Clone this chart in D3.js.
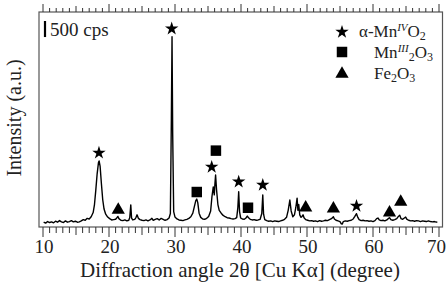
<!DOCTYPE html>
<html>
<head>
<meta charset="utf-8">
<script src="https://cdn.jsdelivr.net/npm/d3@7"></script>
<style>
  body { margin: 0; background: #fff; }
  svg { display: block; font-family: "Liberation Serif", "DejaVu Serif", serif; }
</style>
</head>
<body>
<svg id="chart"></svg>
<script>
// xrd pattern, [2theta (deg), counts (cps)]
var pattern = [
  [10.1,150],[10.4,120],[10.7,170],[11.0,140],[11.3,160],[11.6,130],[11.9,180],[12.2,150],[12.5,200],[12.8,160],
  [13.1,140],[13.4,190],[13.7,150],[14.0,170],[14.3,200],[14.6,160],[14.9,180],[15.2,150],[15.5,160],[15.8,190],
  [16.1,230],[16.4,210],[16.7,270],[17.0,250],[17.3,320],[17.6,450],[17.8,700],[18.0,1150],[18.2,1650],[18.4,2000],
  [18.5,2060],[18.65,1900],[18.85,1350],[19.05,850],[19.25,560],[19.5,400],[19.8,310],[20.1,260],[20.4,220],[20.7,230],
  [21.0,240],[21.2,290],[21.35,330],[21.5,260],[21.8,210],[22.1,200],[22.4,220],[22.7,190],[23.0,210],[23.15,300],
  [23.3,690],[23.42,280],[23.6,220],[23.9,240],[24.1,300],[24.25,380],[24.45,270],[24.7,230],[25.0,210],[25.3,200],
  [25.6,220],[25.9,190],[26.2,220],[26.5,270],[26.7,210],[27.0,240],[27.3,260],[27.6,220],[27.9,270],[28.2,240],
  [28.5,210],[28.8,230],[29.1,280],[29.3,420],[29.45,3400],[29.55,5930],[29.65,2900],[29.8,480],[30.0,310],[30.3,250],
  [30.6,220],[30.9,210],[31.2,200],[31.5,220],[31.8,240],[32.1,270],[32.4,320],[32.7,430],[32.95,650],[33.15,820],
  [33.3,870],[33.45,760],[33.65,430],[33.9,300],[34.2,250],[34.5,240],[34.8,270],[35.1,330],[35.4,500],[35.6,950],
  [35.8,1250],[35.95,1000],[36.05,1350],[36.15,1620],[36.3,1150],[36.5,700],[36.7,520],[37.0,430],[37.3,360],[37.6,320],
  [37.9,290],[38.2,280],[38.5,260],[38.8,250],[39.1,260],[39.35,290],[39.52,600],[39.65,1100],[39.78,480],[39.95,280],
  [40.2,250],[40.5,240],[40.75,280],[40.95,340],[41.15,290],[41.4,240],[41.7,220],[42.0,230],[42.3,210],[42.6,220],
  [42.9,240],[43.15,420],[43.3,1000],[43.42,400],[43.6,230],[43.9,200],[44.2,180],[44.5,190],[44.8,170],[45.1,190],
  [45.4,180],[45.7,170],[46.0,190],[46.3,210],[46.6,240],[46.9,300],[47.15,520],[47.4,840],[47.6,500],[47.85,320],
  [48.1,380],[48.3,600],[48.5,900],[48.62,520],[48.75,700],[48.9,380],[49.1,300],[49.25,330],[49.4,380],[49.55,290],
  [49.8,230],[50.1,210],[50.4,190],[50.7,200],[51.0,180],[51.3,190],[51.6,170],[51.9,200],[52.2,180],[52.5,190],
  [52.8,210],[53.1,200],[53.4,230],[53.7,260],[53.85,290],[54.0,320],[54.15,250],[54.4,210],[54.7,190],[55.0,170],
  [55.2,100],[55.35,90],[55.5,170],[55.8,190],[56.1,180],[56.4,200],[56.7,210],[57.0,250],[57.25,330],[57.5,415],
  [57.7,300],[57.9,230],[58.2,200],[58.5,210],[58.8,190],[59.1,200],[59.4,180],[59.7,190],[60.0,170],[60.3,200],
  [60.55,260],[60.75,280],[60.95,220],[61.2,200],[61.5,210],[61.8,190],[62.1,220],[62.3,260],[62.5,290],[62.7,230],
  [63.0,210],[63.3,230],[63.6,260],[63.85,330],[64.05,370],[64.25,260],[64.5,240],[64.75,280],[64.95,310],[65.15,240],
  [65.4,210],[65.7,190],[66.0,200],[66.3,180],[66.6,200],[66.9,190],[67.2,170],[67.5,190],[67.8,180],[68.1,170],
  [68.4,190],[68.7,170],[69.0,160],[69.3,170],[69.6,150],[69.75,160]
];

// phase markers, [2theta, level in cps where the marker sits]
var stars = [[18.48,2310],[29.5,6180],[35.56,1870],[39.65,1410],[43.3,1310],[57.5,655]];
var squares = [[33.3,1090],[36.2,2380],[41.06,600]];
var triangles = [[21.4,530],[49.8,600],[54.0,570],[62.5,446],[64.2,780]];

var xTicks = [10, 20, 30, 40, 50, 60, 70];
var scaleBar = 500; // cps

var W = 448, H = 284;
var margin = { top: 12, right: 5, bottom: 57, left: 39 };

var svg = d3.select('#chart').attr('width', W).attr('height', H);

var x = d3.scaleLinear().domain([10, 70]).range([43, 439]);
var y = d3.scaleLinear().domain([0, 6700]).range([H - margin.bottom, margin.top]);
var y0 = H - margin.bottom, y1 = margin.top;

// frame
svg.append('rect')
    .attr('x', margin.left).attr('y', y1)
    .attr('width', W - margin.right - margin.left - 0.5).attr('height', y0 - y1)
    .attr('fill', 'none').attr('stroke', '#555').attr('stroke-width', 1.2);

// ticks every degree, longer at 5 and 10, mirrored on top
var minor = d3.range(10, 70.5, 1);
function tickLen(d) { return d % 10 === 0 ? 10 : (d % 5 === 0 ? 8 : 6); }
svg.append('g').selectAll('line').data(minor).join('line')
    .attr('x1', function(d){ return x(d); }).attr('x2', function(d){ return x(d); })
    .attr('y1', y0).attr('y2', function(d){ return y0 + tickLen(d); })
    .attr('stroke', '#333').attr('stroke-width', 1);
svg.append('g').selectAll('line').data(minor).join('line')
    .attr('x1', function(d){ return x(d); }).attr('x2', function(d){ return x(d); })
    .attr('y1', y1).attr('y2', function(d){ return y1 - tickLen(d) + 2; })
    .attr('stroke', '#333').attr('stroke-width', 1);

// last label pushed in a bit so it stays inside the window
svg.append('g').selectAll('text').data(xTicks).join('text')
    .attr('x', function(d){ return d === 70 ? 446 : x(d) + 1; }).attr('y', 253)
    .attr('text-anchor', function(d){ return d === 70 ? 'end' : 'middle'; })
    .attr('font-size', 19).attr('fill', '#222')
    .text(function(d){ return d; });

// axis titles
svg.append('text')
    .attr('x', 240).attr('y', 277).attr('text-anchor', 'middle')
    .attr('font-size', 21).attr('fill', '#222')
    .text('Diffraction angle 2θ [Cu Kα] (degree)');
svg.append('text')
    .attr('transform', 'translate(21,118) rotate(-90)')
    .attr('text-anchor', 'middle').attr('font-size', 20).attr('fill', '#222')
    .text('Intensity (a.u.)');

// pattern line
var line = d3.line().x(function(d){ return x(d[0]); }).y(function(d){ return y(d[1]); });
svg.append('path').datum(pattern)
    .attr('d', line).attr('fill', 'none')
    .attr('stroke', '#000').attr('stroke-width', 1.4).attr('stroke-linejoin', 'round');

// markers
var starSym = d3.symbol().type(d3.symbolStar).size(56);
var squareSym = d3.symbol().type(d3.symbolSquare).size(110);
var triSym = d3.symbol().type(d3.symbolTriangle).size(76);
function drawMarks(data, sym) {
  svg.append('g').selectAll('path').data(data).join('path')
      .attr('d', sym)
      .attr('transform', function(d){ return 'translate(' + x(d[0]) + ',' + y(d[1]) + ')'; })
      .attr('fill', '#000');
}
drawMarks(stars, starSym);
drawMarks(squares, squareSym);
drawMarks(triangles, triSym);

// 500 cps scale bar
svg.append('line')
    .attr('x1', 45).attr('x2', 45)
    .attr('y1', 21).attr('y2', 21 + (y(0) - y(scaleBar)))
    .attr('stroke', '#000').attr('stroke-width', 2.2);
svg.append('text').attr('x', 50).attr('y', 36).attr('font-size', 19).attr('fill', '#222')
    .text(scaleBar + ' cps');

// legend
var leg = svg.append('g');
leg.append('path').attr('d', starSym).attr('transform', 'translate(342,32)');
leg.append('path').attr('d', squareSym).attr('transform', 'translate(342,52)');
leg.append('path').attr('d', triSym).attr('transform', 'translate(342,74)');

function chem(xp, yp, parts) {
  var t = leg.append('text').attr('x', xp).attr('y', yp).attr('font-size', 17).attr('fill', '#222');
  parts.forEach(function(p) {
    var s = t.append('tspan').text(p[0]);
    if (p[1] === 'sup') s.attr('font-size', 11).attr('font-style', 'italic').attr('dy', -6);
    if (p[1] === 'sub') s.attr('font-size', 12).attr('dy', p[2] || 3);
    if (p[1] === 'back') s.attr('dy', p[2]);
  });
}
chem(359, 37, [['α-Mn'], ['IV', 'sup'], ['O', 'back', 6], ['2', 'sub']]);
chem(374, 58, [['Mn'], ['III', 'sup'], ['2', 'sub', 9], ['O', 'back', -3], ['3', 'sub']]);
chem(374, 79, [['Fe'], ['2', 'sub'], ['O', 'back', -3], ['3', 'sub']]);
</script>
</body>
</html>
